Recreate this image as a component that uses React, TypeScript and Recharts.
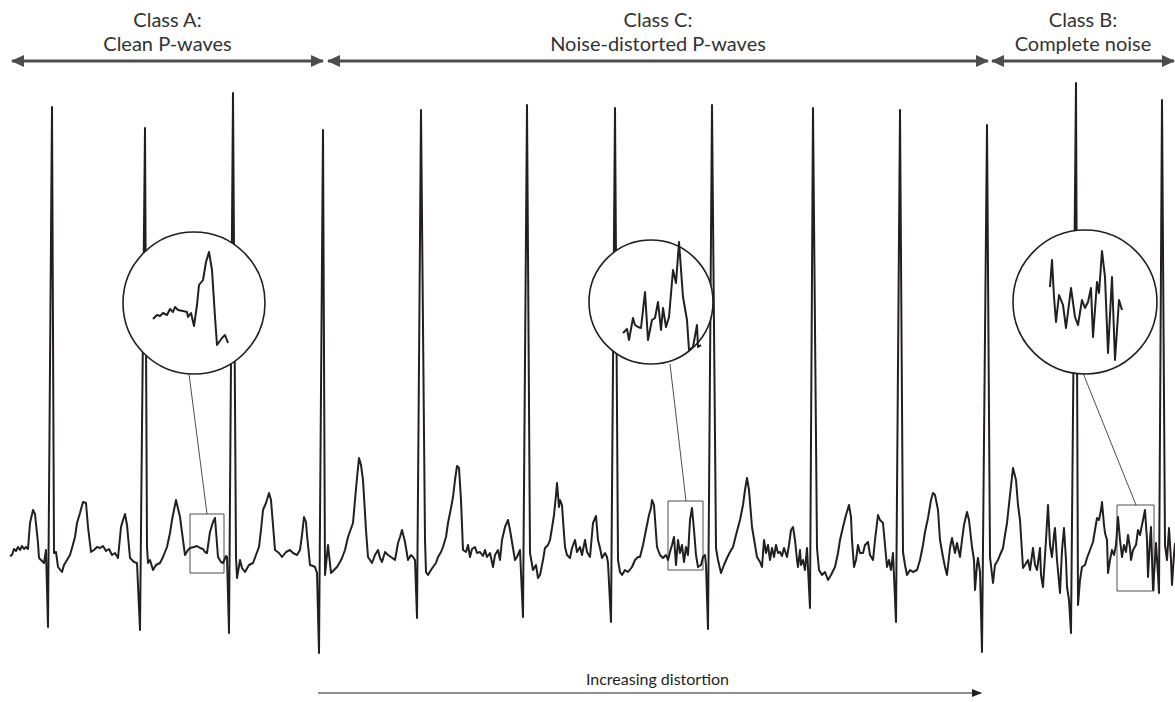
import {
  ComposedChart,
  Label,
  Line,
  ReferenceArea,
  ReferenceLine,
  Scatter,
  XAxis,
  YAxis,
} from "recharts";

// ECG trace: [time (s), amplitude (mV)]
const CLASS_A_TRACE: [number, number][] = [
  [0.1, -0.06], [0.12, -0.05], [0.14, 0.01], [0.16, -0.01], [0.18, 0.03], [0.2, 0.0], [0.22, 0.04],
  [0.24, 0.01], [0.26, 0.03], [0.28, 0.01], [0.3, 0.27], [0.33, 0.4], [0.35, 0.36], [0.38, 0.07],
  [0.39, -0.08], [0.42, -0.11], [0.44, -0.13], [0.46, 0.0], [0.48, -0.77], [0.52, 4.43], [0.54, -0.03],
  [0.56, -0.02], [0.58, -0.17], [0.62, -0.22], [0.64, -0.15], [0.67, -0.1], [0.7, -0.05], [0.72, 0.02],
  [0.75, 0.13], [0.77, 0.27], [0.8, 0.37], [0.83, 0.48], [0.86, 0.47], [0.88, 0.23], [0.91, -0.02],
  [0.94, 0.0], [0.97, 0.03], [1.0, 0.02], [1.03, 0.04], [1.06, -0.01], [1.09, 0.01], [1.12, -0.05],
  [1.15, -0.03], [1.18, -0.08], [1.21, 0.23], [1.23, 0.3], [1.25, 0.36], [1.27, 0.25], [1.3, -0.08],
  [1.34, -0.12], [1.37, -0.13], [1.4, -0.8], [1.45, 4.22], [1.47, 0.03], [1.48, -0.13], [1.5, -0.1],
  [1.53, -0.2], [1.56, -0.15], [1.6, -0.13], [1.63, -0.07], [1.67, 0.03], [1.7, 0.17], [1.72, 0.3],
  [1.76, 0.5], [1.8, 0.33], [1.83, 0.1], [1.85, -0.05], [1.88, 0.0], [1.9, 0.02], [1.94, 0.03],
  [1.97, 0.04], [2.0, 0.02], [2.03, 0.01], [2.05, -0.02], [2.07, -0.03], [2.1, 0.18], [2.13, 0.28],
  [2.15, 0.32], [2.18, -0.07], [2.21, -0.12], [2.23, -0.13], [2.26, -0.06], [2.27, -0.07], [2.29, -0.83],
  [2.33, 4.57], [2.36, -0.07], [2.37, -0.28], [2.4, -0.1], [2.42, -0.18], [2.45, -0.22], [2.49, -0.15],
  [2.53, -0.13], [2.56, -0.05], [2.59, 0.03], [2.61, 0.2], [2.63, 0.4], [2.66, 0.47], [2.69, 0.57],
  [2.71, 0.5], [2.73, 0.25], [2.75, 0.0], [2.79, -0.03], [2.82, -0.07], [2.86, -0.02], [2.9, 0.0],
  [2.93, -0.03], [2.97, -0.05], [3.0, 0.0], [3.02, 0.15], [3.04, 0.33], [3.06, 0.28], [3.07, 0.15],
  [3.1, -0.15], [3.13, -0.16], [3.15, -0.17], [3.17, -0.23], [3.19, -1.03],
];

const CLASS_C_TRACE: [number, number][] = [
  [3.23, 4.2], [3.25, -0.25], [3.28, 0.05], [3.31, -0.23], [3.34, -0.2], [3.37, -0.17], [3.4, -0.12],
  [3.42, -0.08], [3.45, 0.0], [3.48, 0.13], [3.53, 0.27], [3.55, 0.5], [3.57, 0.72], [3.59, 0.92],
  [3.61, 0.85], [3.63, 0.7], [3.66, 0.2], [3.68, -0.07], [3.72, -0.13], [3.75, -0.05], [3.78, 0.0],
  [3.8, -0.08], [3.82, -0.12], [3.85, -0.02], [3.88, -0.05], [3.91, -0.07], [3.95, -0.1], [3.98, 0.07],
  [4.0, 0.13], [4.02, 0.2], [4.05, 0.08], [4.08, -0.1], [4.11, -0.05], [4.13, -0.07], [4.15, -0.1],
  [4.17, -0.68], [4.21, 4.4], [4.25, 0.1], [4.26, -0.22], [4.28, -0.25], [4.31, -0.2], [4.33, -0.17],
  [4.36, -0.13], [4.38, -0.07], [4.41, -0.02], [4.43, 0.03], [4.46, 0.13], [4.48, 0.27], [4.51, 0.42],
  [4.53, 0.53], [4.55, 0.7], [4.57, 0.84], [4.59, 0.82], [4.61, 0.5], [4.63, 0.0], [4.66, -0.02],
  [4.68, 0.05], [4.7, -0.07], [4.72, 0.01], [4.75, 0.03], [4.77, -0.03], [4.8, -0.02], [4.83, -0.06],
  [4.85, 0.0], [4.87, -0.07], [4.9, -0.03], [4.93, -0.17], [4.95, -0.05], [4.98, 0.0], [5.0, -0.1],
  [5.02, 0.1], [5.05, 0.23], [5.08, 0.3], [5.1, 0.2], [5.12, 0.08], [5.15, -0.1], [5.17, -0.07],
  [5.2, 0.0], [5.23, -0.67], [5.27, 4.45], [5.3, -0.03], [5.33, -0.2], [5.36, -0.15], [5.38, -0.28],
  [5.4, -0.25], [5.43, -0.1], [5.45, 0.02], [5.48, 0.05], [5.5, 0.1], [5.52, 0.22], [5.54, 0.35],
  [5.56, 0.55], [5.57, 0.67], [5.59, 0.43], [5.6, 0.5], [5.62, 0.45], [5.63, 0.3], [5.65, 0.03],
  [5.67, -0.05], [5.7, -0.08], [5.72, 0.02], [5.75, 0.1], [5.77, -0.02], [5.8, 0.03], [5.82, -0.05],
  [5.85, 0.1], [5.87, -0.02], [5.9, -0.07], [5.93, 0.27], [5.96, 0.34], [5.98, 0.1], [6.0, 0.02],
  [6.02, -0.08], [6.05, -0.03], [6.07, -0.07], [6.08, -0.13], [6.11, -0.72], [6.15, 4.42], [6.18, -0.1],
  [6.2, -0.22], [6.22, -0.25], [6.25, -0.2], [6.28, -0.22], [6.32, -0.17], [6.35, -0.1], [6.38, -0.07],
  [6.4, -0.07], [6.43, 0.05], [6.46, 0.2], [6.49, 0.35], [6.51, 0.42], [6.52, 0.5], [6.54, 0.45],
  [6.57, 0.03], [6.6, -0.05], [6.63, -0.08], [6.66, -0.05], [6.68, -0.1], [6.7, -0.02], [6.72, 0.05],
  [6.74, 0.13], [6.76, -0.15], [6.78, 0.1], [6.8, -0.03], [6.82, 0.05], [6.84, -0.12], [6.86, 0.03],
  [6.88, -0.05], [6.9, 0.3], [6.92, 0.42], [6.94, 0.2], [6.96, -0.05], [6.98, -0.17], [7.01, -0.15],
  [7.03, -0.07], [7.05, -0.05], [7.06, -0.15], [7.08, -0.79], [7.12, 4.45], [7.16, 0.02], [7.18, -0.1],
  [7.21, -0.23], [7.24, -0.15], [7.27, -0.08], [7.3, -0.02], [7.33, 0.03], [7.36, 0.15], [7.4, 0.3],
  [7.43, 0.45], [7.45, 0.6], [7.47, 0.72], [7.49, 0.6], [7.52, 0.23], [7.55, 0.05], [7.57, -0.07],
  [7.6, -0.12], [7.62, -0.17], [7.64, 0.1], [7.66, -0.03], [7.68, 0.05], [7.7, -0.1], [7.72, 0.02],
  [7.74, -0.07], [7.76, 0.05], [7.78, -0.03], [7.8, -0.02], [7.82, -0.06], [7.84, 0.02], [7.87, -0.07],
  [7.89, 0.05], [7.91, 0.2], [7.93, 0.23], [7.95, 0.1], [7.97, -0.1], [7.98, -0.17], [8.0, 0.0],
  [8.01, -0.15], [8.03, -0.1], [8.05, -0.2], [8.07, 0.02], [8.1, -0.58], [8.13, 4.42], [8.17, 0.02],
  [8.19, -0.2], [8.22, -0.25], [8.25, -0.22], [8.28, -0.3], [8.31, -0.25], [8.35, -0.17], [8.38, -0.03],
  [8.4, 0.1], [8.43, 0.23], [8.46, 0.35], [8.49, 0.45], [8.51, 0.33], [8.52, 0.1], [8.54, -0.17],
  [8.56, -0.1], [8.58, 0.05], [8.6, -0.03], [8.63, -0.03], [8.65, 0.05], [8.68, 0.08], [8.7, -0.05],
  [8.73, -0.1], [8.75, 0.1], [8.78, 0.35], [8.8, 0.3], [8.83, 0.27], [8.85, 0.05], [8.87, -0.17],
  [8.89, -0.1], [8.91, -0.2], [8.93, -0.03], [8.96, -0.72], [9.0, 4.4], [9.03, -0.02], [9.05, -0.15],
  [9.07, -0.25], [9.1, -0.2], [9.13, -0.22], [9.17, -0.2], [9.2, -0.1], [9.23, 0.05], [9.25, 0.18],
  [9.28, 0.32], [9.31, 0.5], [9.33, 0.57], [9.35, 0.55], [9.38, 0.4], [9.4, 0.1], [9.43, -0.07],
  [9.45, -0.17], [9.47, -0.25], [9.5, 0.02], [9.52, 0.12], [9.55, -0.03], [9.57, 0.07], [9.6, -0.07],
  [9.62, 0.1], [9.64, 0.25], [9.67, 0.38], [9.69, 0.3], [9.72, 0.03], [9.74, -0.1], [9.75, -0.4],
  [9.77, -0.15], [9.78, -0.08], [9.8, -0.22], [9.82, -1.02],
];

const CLASS_B_TRACE: [number, number][] = [
  [9.87, 4.25], [9.9, -0.07], [9.93, -0.33], [9.95, -0.15], [9.98, -0.1], [10.0, -0.05], [10.03, 0.02],
  [10.05, 0.15], [10.07, 0.27], [10.1, 0.55], [10.13, 0.82], [10.16, 0.7], [10.18, 0.45], [10.2, 0.3],
  [10.23, -0.18], [10.25, -0.15], [10.28, -0.1], [10.3, -0.2], [10.33, 0.02], [10.35, -0.15], [10.37, -0.2],
  [10.4, 0.02], [10.41, -0.25], [10.43, -0.37], [10.46, 0.1], [10.48, 0.45], [10.5, 0.05], [10.52, -0.07],
  [10.54, 0.15], [10.55, 0.22], [10.57, -0.1], [10.6, -0.43], [10.62, 0.0], [10.64, 0.22], [10.66, -0.1],
  [10.67, -0.37], [10.69, -0.5], [10.71, -0.83], [10.76, 4.67], [10.78, -0.55], [10.8, -0.3], [10.82, -0.17],
  [10.85, -0.15], [10.87, -0.08], [10.9, 0.0], [10.93, 0.08], [10.95, 0.2], [10.97, 0.32], [10.99, 0.3],
  [11.01, 0.4], [11.02, 0.48], [11.04, 0.25], [11.05, 0.17], [11.07, 0.1], [11.08, -0.23], [11.1, -0.1],
  [11.12, 0.0], [11.14, -0.05], [11.16, 0.05], [11.18, 0.33], [11.2, 0.1], [11.22, -0.07], [11.24, 0.05],
  [11.26, -0.02], [11.28, 0.15], [11.3, 0.02], [11.31, -0.1], [11.33, 0.0], [11.36, 0.05], [11.38, 0.2],
  [11.4, 0.15], [11.42, 0.25], [11.45, 0.4], [11.47, 0.1], [11.48, -0.27], [11.5, 0.1], [11.51, 0.23],
  [11.53, -0.4], [11.55, -0.1], [11.56, 0.07], [11.58, -0.25], [11.59, -0.43], [11.62, 4.5], [11.65, 0.05],
  [11.67, -0.1], [11.69, 0.22], [11.71, -0.1], [11.72, -0.35], [11.74, -0.05], [11.75, 0.07],
];

// magnified P-wave snippets shown inside the circles
const INSET_A: [number, number][] = [
  [1.53, 2.31], [1.57, 2.35], [1.6, 2.34], [1.63, 2.37], [1.67, 2.35], [1.7, 2.41], [1.73, 2.38],
  [1.75, 2.43], [1.78, 2.4], [1.83, 2.39], [1.87, 2.38], [1.88, 2.33], [1.91, 2.37], [1.94, 2.24],
  [1.97, 2.45], [1.99, 2.65], [2.03, 2.7], [2.06, 2.88], [2.09, 2.98], [2.12, 2.8], [2.15, 2.33],
  [2.17, 2.05], [2.22, 2.12], [2.25, 2.15], [2.28, 2.07],
];
const INSET_C: [number, number][] = [
  [6.23, 2.17], [6.27, 2.21], [6.29, 2.1], [6.33, 2.32], [6.35, 2.25], [6.38, 2.23], [6.41, 2.22],
  [6.45, 2.58], [6.48, 2.1], [6.52, 2.3], [6.55, 2.32], [6.58, 2.48], [6.61, 2.2], [6.63, 2.42],
  [6.66, 2.23], [6.69, 2.33], [6.73, 2.8], [6.76, 2.67], [6.79, 3.08], [6.83, 2.53], [6.87, 2.3],
  [6.89, 2.0], [6.93, 2.03], [6.97, 2.25], [6.98, 2.03], [7.01, 2.05],
];
const INSET_B: [number, number][] = [
  [10.5, 2.63], [10.52, 2.9], [10.54, 2.53], [10.56, 2.28], [10.59, 2.55], [10.63, 2.45], [10.66, 2.22],
  [10.71, 2.62], [10.75, 2.33], [10.78, 2.25], [10.82, 2.5], [10.85, 2.42], [10.88, 2.48], [10.91, 2.62],
  [10.93, 2.13], [10.97, 2.68], [10.99, 2.57], [11.02, 2.99], [11.05, 2.73], [11.08, 1.97], [11.12, 2.73],
  [11.15, 1.9], [11.19, 2.5], [11.22, 2.4],
];

// magnifier centres [time, amplitude]
const MAGNIFIERS: [number, number][] = [[1.94, 2.47], [6.51, 2.48], [10.85, 2.48]];
const MAGNIFIER_R = [71, 62, 72];

const toRows = (pts: [number, number][]) => pts.map(([t, v]) => ({ t, v }));

const INK = "#231f20";
const ARROW = "#4d4d4d";
const TEXT = "#333";
const FONT = "Lato, 'Open Sans', sans-serif";

const W = 1175;
const H = 702;

export default function App() {
  const trace = toRows([...CLASS_A_TRACE, ...CLASS_C_TRACE, ...CLASS_B_TRACE]);

  return (
    <div style={{ position: "absolute", left: 0, top: 0, width: W, height: H, background: "#fff" }}>
      <ComposedChart width={W} height={H} margin={{ top: 0, right: 0, bottom: 0, left: 0 }}>
        <defs>
          <marker id="headEnd" markerWidth={13} markerHeight={12} refX={12} refY={6} orient="auto" markerUnits="userSpaceOnUse">
            <path d="M0,0 L13,6 L0,12 z" fill={ARROW} />
          </marker>
          <marker id="headStart" markerWidth={13} markerHeight={12} refX={1} refY={6} orient="auto" markerUnits="userSpaceOnUse">
            <path d="M13,0 L0,6 L13,12 z" fill={ARROW} />
          </marker>
          <marker id="smallEnd" markerWidth={10} markerHeight={8} refX={9} refY={4} orient="auto" markerUnits="userSpaceOnUse">
            <path d="M0,0 L10,4 L0,8 z" fill={INK} />
          </marker>
        </defs>
        <XAxis type="number" dataKey="t" domain={[0, 11.75]} hide allowDataOverflow />
        <YAxis type="number" dataKey="v" domain={[-1.52, 5.5]} hide allowDataOverflow />

        <Line
          data={trace}
          dataKey="v"
          type="linear"
          stroke={INK}
          strokeWidth={2}
          strokeLinejoin="round"
          dot={false}
          activeDot={false}
          isAnimationActive={false}
          zIndex={100}
        />

        {/* boxes around the magnified P-waves */}
        <ReferenceArea x1={1.9} x2={2.24} y1={-0.23} y2={0.36} fill="none" stroke={INK} strokeWidth={0.8} ifOverflow="visible" />
        <ReferenceArea x1={6.68} x2={7.03} y1={-0.2} y2={0.49} fill="none" stroke={INK} strokeWidth={0.8} ifOverflow="visible" />
        <ReferenceArea x1={11.17} x2={11.54} y1={-0.41} y2={0.45} fill="none" stroke={INK} strokeWidth={0.8} ifOverflow="visible" />

        <ReferenceLine segment={[{ x: 2.07, y: 0.36 }, { x: 1.89, y: 1.76 }]} stroke={INK} strokeWidth={0.8} ifOverflow="visible" />
        <ReferenceLine segment={[{ x: 6.86, y: 0.49 }, { x: 6.7, y: 1.86 }]} stroke={INK} strokeWidth={0.8} ifOverflow="visible" />
        <ReferenceLine segment={[{ x: 11.36, y: 0.45 }, { x: 10.83, y: 1.77 }]} stroke={INK} strokeWidth={0.8} ifOverflow="visible" />

        {/* magnifier circles, drawn over the trace */}
        <Scatter
          data={toRows(MAGNIFIERS)}
          isAnimationActive={false}
          zIndex={700}
          shape={(p: any) => (
            <circle cx={p.cx} cy={p.cy} r={MAGNIFIER_R[p.index] ?? 70} fill="#fff" stroke={INK} strokeWidth={1.6} />
          )}
        />

        {[INSET_A, INSET_C, INSET_B].map((pts, i) => (
          <Line
            key={i}
            data={toRows(pts)}
            dataKey="v"
            type="linear"
            stroke={INK}
            strokeWidth={2}
            strokeLinejoin="round"
            dot={false}
            activeDot={false}
            isAnimationActive={false}
            zIndex={800}
          />
        ))}

        {/* class ranges */}
        <ReferenceLine
          segment={[{ x: 0.12, y: 4.89 }, { x: 3.23, y: 4.89 }]}
          stroke={ARROW}
          strokeWidth={3}
          markerStart="url(#headStart)"
          markerEnd="url(#headEnd)"
          ifOverflow="visible"
        >
          <Label value="Class A:" position="top" offset={34} fill={TEXT} fontSize={20} fontFamily={FONT} />
          <Label value="Clean P-waves" position="top" offset={10} fill={TEXT} fontSize={20} fontFamily={FONT} />
        </ReferenceLine>
        <ReferenceLine
          segment={[{ x: 3.28, y: 4.89 }, { x: 9.88, y: 4.89 }]}
          stroke={ARROW}
          strokeWidth={3}
          markerStart="url(#headStart)"
          markerEnd="url(#headEnd)"
          ifOverflow="visible"
        >
          <Label value="Class C:" position="top" offset={34} fill={TEXT} fontSize={20} fontFamily={FONT} />
          <Label value="Noise-distorted P-waves" position="top" offset={10} fill={TEXT} fontSize={20} fontFamily={FONT} />
        </ReferenceLine>
        <ReferenceLine
          segment={[{ x: 9.92, y: 4.89 }, { x: 11.74, y: 4.89 }]}
          stroke={ARROW}
          strokeWidth={3}
          markerStart="url(#headStart)"
          markerEnd="url(#headEnd)"
          ifOverflow="visible"
        >
          <Label value="Class B:" position="top" offset={34} fill={TEXT} fontSize={20} fontFamily={FONT} />
          <Label value="Complete noise" position="top" offset={10} fill={TEXT} fontSize={20} fontFamily={FONT} />
        </ReferenceLine>

        <ReferenceLine
          segment={[{ x: 3.18, y: -1.43 }, { x: 9.81, y: -1.43 }]}
          stroke={INK}
          strokeWidth={1}
          markerEnd="url(#smallEnd)"
          ifOverflow="visible"
        >
          <Label value="Increasing distortion" position="top" offset={8} dx={8} fill={INK} fontSize={16} fontFamily={FONT} />
        </ReferenceLine>
      </ComposedChart>
    </div>
  );
}
